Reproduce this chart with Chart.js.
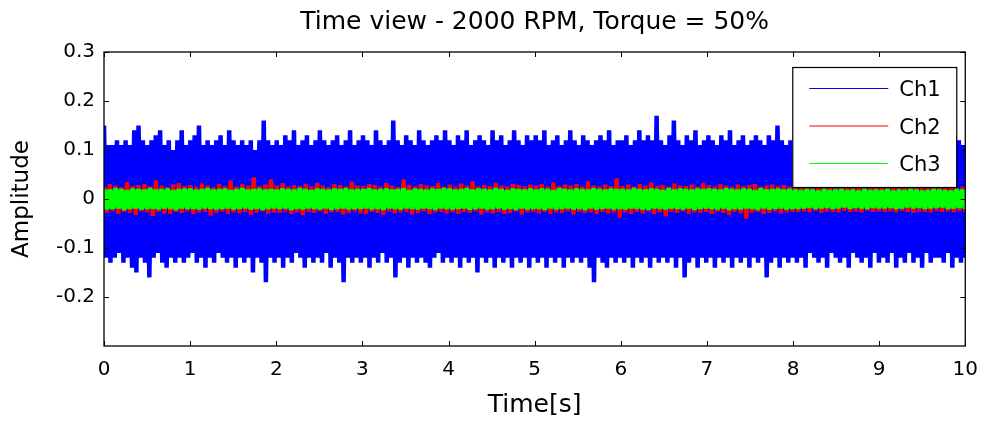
<!DOCTYPE html>
<html>
<head>
<meta charset="utf-8">
<script src="https://cdn.jsdelivr.net/npm/chart.js@4"></script>
<style>
  html, body { margin: 0; padding: 0; background: #fff; }
  #wrap { width: 990px; height: 425px; }
</style>
</head>
<body>
<div id="wrap"><canvas id="chart" width="990" height="425"></canvas></div>
<script>
const TITLE = "Time view - 2000 RPM, Torque = 50%"
const SERIES_NAMES = ["Ch1", "Ch2", "Ch3"]
const X_TICKS = [0, 1, 2, 3, 4, 5, 6, 7, 8, 9, 10]
const Y_TICKS = [0.3, 0.2, 0.1, 0, -0.1, -0.2]

// Ch1 - peaks, 40 per second
const ch1 = [
  0.15,-0.12,0.11,-0.13,0.11,-0.12,0.12,-0.11,0.11,-0.13,0.12,-0.12,0.11,-0.14,0.14,-0.15,0.15,-0.12,0.12,-0.13,0.11,-0.16,0.12,-0.12,0.13,-0.11,0.14,-0.13,0.11,-0.14,0.12,-0.12,0.10,-0.13,0.12,-0.12,0.14,-0.13,0.11,-0.12,
  0.12,-0.11,0.13,-0.13,0.15,-0.12,0.11,-0.14,0.12,-0.12,0.11,-0.13,0.12,-0.11,0.13,-0.12,0.11,-0.13,0.14,-0.12,0.12,-0.14,0.11,-0.12,0.12,-0.13,0.11,-0.12,0.12,-0.15,0.10,-0.12,0.12,-0.13,0.16,-0.17,0.12,-0.12,0.11,-0.13,
  0.12,-0.12,0.11,-0.14,0.13,-0.12,0.12,-0.13,0.14,-0.11,0.11,-0.12,0.12,-0.14,0.13,-0.12,0.11,-0.13,0.12,-0.12,0.14,-0.13,0.12,-0.11,0.11,-0.14,0.12,-0.12,0.13,-0.13,0.11,-0.17,0.12,-0.12,0.14,-0.13,0.11,-0.12,0.12,-0.13,
  0.13,-0.12,0.12,-0.14,0.11,-0.12,0.14,-0.13,0.12,-0.11,0.11,-0.13,0.12,-0.12,0.16,-0.16,0.12,-0.13,0.11,-0.12,0.13,-0.14,0.12,-0.12,0.11,-0.13,0.14,-0.12,0.12,-0.13,0.11,-0.14,0.12,-0.12,0.13,-0.11,0.12,-0.13,0.14,-0.12,
  0.12,-0.13,0.11,-0.12,0.13,-0.14,0.12,-0.12,0.14,-0.13,0.11,-0.12,0.12,-0.15,0.13,-0.12,0.12,-0.13,0.11,-0.12,0.14,-0.14,0.12,-0.12,0.13,-0.13,0.11,-0.12,0.12,-0.14,0.14,-0.12,0.12,-0.13,0.11,-0.12,0.13,-0.14,0.12,-0.12,
  0.13,-0.13,0.12,-0.12,0.14,-0.14,0.11,-0.12,0.12,-0.13,0.13,-0.12,0.11,-0.14,0.12,-0.12,0.14,-0.13,0.12,-0.12,0.11,-0.13,0.13,-0.12,0.12,-0.14,0.11,-0.17,0.12,-0.12,0.13,-0.13,0.12,-0.14,0.14,-0.12,0.11,-0.13,0.12,-0.12,
  0.12,-0.13,0.13,-0.12,0.11,-0.14,0.12,-0.12,0.14,-0.13,0.12,-0.12,0.13,-0.14,0.12,-0.12,0.17,-0.13,0.12,-0.12,0.11,-0.13,0.13,-0.12,0.16,-0.14,0.12,-0.12,0.11,-0.16,0.13,-0.13,0.12,-0.12,0.14,-0.14,0.11,-0.12,0.12,-0.13,
  0.13,-0.12,0.12,-0.14,0.11,-0.12,0.13,-0.13,0.12,-0.12,0.14,-0.14,0.11,-0.12,0.12,-0.13,0.13,-0.12,0.11,-0.14,0.12,-0.12,0.13,-0.13,0.12,-0.12,0.11,-0.16,0.13,-0.13,0.12,-0.12,0.15,-0.14,0.12,-0.12,0.11,-0.13,0.12,-0.12,
  0.11,-0.13,0.12,-0.12,0.10,-0.14,0.12,-0.11,0.11,-0.12,0.12,-0.13,0.10,-0.12,0.11,-0.14,0.12,-0.11,0.11,-0.12,0.10,-0.13,0.12,-0.12,0.11,-0.14,0.12,-0.11,0.10,-0.12,0.11,-0.13,0.12,-0.12,0.11,-0.14,0.10,-0.11,0.12,-0.13,
  0.11,-0.12,0.12,-0.13,0.10,-0.11,0.11,-0.14,0.12,-0.12,0.11,-0.13,0.10,-0.11,0.12,-0.13,0.11,-0.12,0.12,-0.14,0.10,-0.11,0.11,-0.13,0.12,-0.12,0.11,-0.12,0.10,-0.13,0.12,-0.11,0.11,-0.14,0.13,-0.12,0.12,-0.13,0.11,-0.12
]

// Ch2 - 30 per second
const ch2 = [
  0.025,-0.028,0.03,-0.024,0.027,-0.03,0.024,-0.026,0.035,-0.028,0.026,-0.032,0.028,-0.025,0.03,-0.027,0.025,-0.035,0.038,-0.026,0.027,-0.029,0.024,-0.03,0.029,-0.026,0.032,-0.028,0.026,-0.025,
  0.028,-0.03,0.025,-0.027,0.031,-0.026,0.027,-0.033,0.024,-0.028,0.03,-0.025,0.026,-0.03,0.038,-0.027,0.025,-0.029,0.03,-0.026,0.027,-0.032,0.044,-0.028,0.026,-0.025,0.029,-0.03,0.04,-0.027,
  0.027,-0.028,0.032,-0.025,0.025,-0.03,0.028,-0.027,0.026,-0.033,0.03,-0.026,0.025,-0.028,0.033,-0.025,0.027,-0.03,0.024,-0.027,0.03,-0.026,0.028,-0.031,0.025,-0.028,0.035,-0.025,0.027,-0.029,
  0.026,-0.03,0.03,-0.026,0.028,-0.028,0.025,-0.032,0.033,-0.025,0.027,-0.029,0.024,-0.027,0.04,-0.026,0.028,-0.031,0.025,-0.028,0.03,-0.025,0.027,-0.03,0.026,-0.027,0.032,-0.026,0.025,-0.029,
  0.029,-0.027,0.025,-0.03,0.031,-0.026,0.027,-0.028,0.036,-0.025,0.025,-0.031,0.028,-0.027,0.026,-0.029,0.033,-0.026,0.027,-0.03,0.025,-0.028,0.03,-0.025,0.028,-0.031,0.026,-0.027,0.029,-0.026,
  0.027,-0.029,0.03,-0.026,0.025,-0.03,0.034,-0.027,0.026,-0.028,0.029,-0.025,0.027,-0.031,0.03,-0.026,0.025,-0.028,0.036,-0.027,0.027,-0.03,0.025,-0.026,0.029,-0.029,0.026,-0.027,0.042,-0.038,
  0.026,-0.027,0.029,-0.03,0.025,-0.026,0.03,-0.029,0.027,-0.025,0.034,-0.03,0.026,-0.027,0.028,-0.035,0.025,-0.026,0.031,-0.028,0.027,-0.025,0.026,-0.03,0.029,-0.027,0.025,-0.028,0.032,-0.026,
  0.028,-0.03,0.025,-0.026,0.03,-0.028,0.027,-0.033,0.025,-0.026,0.029,-0.029,0.026,-0.04,0.028,-0.027,0.03,-0.026,0.025,-0.03,0.027,-0.028,0.029,-0.025,0.026,-0.029,0.028,-0.027,0.025,-0.026,
  0.024,-0.026,0.027,-0.025,0.023,-0.027,0.026,-0.024,0.025,-0.028,0.024,-0.025,0.026,-0.026,0.023,-0.027,0.025,-0.024,0.027,-0.026,0.024,-0.025,0.026,-0.027,0.023,-0.024,0.025,-0.026,0.027,-0.025,
  0.025,-0.026,0.024,-0.025,0.027,-0.027,0.023,-0.024,0.026,-0.026,0.025,-0.028,0.024,-0.025,0.026,-0.026,0.023,-0.027,0.025,-0.024,0.027,-0.026,0.024,-0.025,0.026,-0.027,0.023,-0.024,0.025,-0.026
]

// Ch3 - 30 per second
const ch3 = [
  0.02,-0.021,0.019,-0.02,0.022,-0.019,0.02,-0.022,0.018,-0.02,0.021,-0.019,0.02,-0.021,0.019,-0.02,0.022,-0.02,0.019,-0.021,0.02,-0.019,0.021,-0.02,0.018,-0.022,0.02,-0.019,0.021,-0.02,
  0.021,-0.02,0.019,-0.021,0.02,-0.019,0.022,-0.02,0.019,-0.021,0.02,-0.02,0.021,-0.019,0.018,-0.021,0.02,-0.02,0.022,-0.019,0.019,-0.021,0.02,-0.02,0.021,-0.022,0.019,-0.02,0.02,-0.019,
  0.019,-0.02,0.021,-0.019,0.02,-0.022,0.019,-0.02,0.022,-0.021,0.02,-0.019,0.018,-0.02,0.021,-0.021,0.02,-0.019,0.019,-0.022,0.021,-0.02,0.02,-0.019,0.022,-0.021,0.019,-0.02,0.02,-0.02,
  0.02,-0.019,0.022,-0.021,0.019,-0.02,0.02,-0.022,0.021,-0.019,0.019,-0.02,0.02,-0.021,0.022,-0.019,0.018,-0.02,0.021,-0.021,0.02,-0.019,0.019,-0.02,0.021,-0.022,0.02,-0.019,0.022,-0.02,
  0.021,-0.021,0.019,-0.02,0.02,-0.019,0.022,-0.022,0.019,-0.02,0.021,-0.019,0.02,-0.021,0.019,-0.02,0.022,-0.019,0.02,-0.021,0.018,-0.02,0.021,-0.022,0.02,-0.019,0.019,-0.021,0.021,-0.02,
  0.019,-0.02,0.021,-0.022,0.02,-0.019,0.018,-0.021,0.022,-0.02,0.02,-0.019,0.019,-0.021,0.021,-0.02,0.02,-0.022,0.019,-0.019,0.022,-0.021,0.02,-0.02,0.019,-0.019,0.021,-0.021,0.02,-0.02,
  0.02,-0.021,0.019,-0.019,0.022,-0.02,0.02,-0.021,0.019,-0.022,0.021,-0.019,0.02,-0.02,0.018,-0.021,0.022,-0.019,0.019,-0.02,0.021,-0.021,0.02,-0.019,0.019,-0.022,0.021,-0.02,0.02,-0.019,
  0.021,-0.02,0.02,-0.021,0.019,-0.019,0.022,-0.022,0.02,-0.02,0.019,-0.021,0.021,-0.019,0.02,-0.02,0.018,-0.022,0.022,-0.019,0.019,-0.021,0.02,-0.02,0.021,-0.019,0.019,-0.021,0.02,-0.02,
  0.019,-0.02,0.018,-0.019,0.02,-0.018,0.019,-0.02,0.017,-0.019,0.02,-0.018,0.018,-0.02,0.019,-0.019,0.02,-0.017,0.018,-0.02,0.019,-0.018,0.017,-0.019,0.02,-0.02,0.018,-0.018,0.019,-0.019,
  0.018,-0.019,0.02,-0.018,0.017,-0.02,0.019,-0.019,0.018,-0.017,0.02,-0.019,0.019,-0.018,0.017,-0.02,0.018,-0.019,0.02,-0.018,0.019,-0.017,0.018,-0.02,0.017,-0.019,0.02,-0.018,0.019,-0.02
]

const COLORS = ["#0000ff", "#ff0000", "#00ff00"]
const WIDTHS = [4.5, 4, 5]
const FONT = "'DejaVu Sans', sans-serif"
const T_END = 10

// sample times, evenly spread over the record
const toPoints = (arr) => arr.map((v, i) => ({ x: i * T_END / (arr.length - 1), y: v }))

const fmt = (v) => {
    const r = Math.round(v * 10) / 10
    return r === 0 ? "0" : String(r)
}

// MATLAB style box, inward ticks and legend
const matlabBox = {
    id: "matlabBox",
    afterDatasetsDraw(chart) {
        const { ctx, chartArea: a, scales } = chart
        ctx.save()
        ctx.strokeStyle = "#000"
        ctx.lineWidth = 1.3
        ctx.strokeRect(a.left, a.top, a.right - a.left, a.bottom - a.top)
        const tl = 5
        ctx.lineWidth = 1
        ctx.beginPath()
        X_TICKS.forEach(t => {
            const x = Math.round(scales.x.getPixelForValue(t)) + 0.5
            ctx.moveTo(x, a.bottom); ctx.lineTo(x, a.bottom - tl)
            ctx.moveTo(x, a.top); ctx.lineTo(x, a.top + tl)
        })
        Y_TICKS.forEach(t => {
            const y = Math.round(scales.y.getPixelForValue(t)) + 0.5
            ctx.moveTo(a.left, y); ctx.lineTo(a.left + tl, y)
            ctx.moveTo(a.right, y); ctx.lineTo(a.right - tl, y)
        })
        ctx.stroke()

        // legend
        const bw = 164, bh = 120
        const bx = a.right - 9 - bw, by = a.top + 15
        ctx.fillStyle = "#fff"
        ctx.fillRect(bx, by, bw, bh)
        ctx.lineWidth = 1.2
        ctx.strokeStyle = "#000"
        ctx.strokeRect(bx + 0.5, by + 0.5, bw, bh)
        ctx.font = "21px " + FONT
        ctx.textBaseline = "middle"
        ctx.textAlign = "left"
        SERIES_NAMES.forEach((name, i) => {
            const y = by + 21 + i * 37.5
            ctx.strokeStyle = COLORS[i]
            ctx.lineWidth = 1.2
            ctx.beginPath()
            ctx.moveTo(bx + 17, y + 0.5)
            ctx.lineTo(bx + 96, y + 0.5)
            ctx.stroke()
            ctx.fillStyle = "#000"
            ctx.fillText(name, bx + 107, y + 3)
        })
        ctx.restore()
    }
}

const channels = [ch1, ch2, ch3]
// reversed so that Ch3 ends up on top
const datasets = channels.map((arr, i) => ({
    label: SERIES_NAMES[i],
    data: toPoints(arr),
    borderColor: COLORS[i],
    backgroundColor: COLORS[i],
    borderWidth: WIDTHS[i],
    borderJoinStyle: "bevel",
    pointRadius: 0,
    tension: 0,
    fill: false
})).reverse()

new Chart(document.getElementById("chart"), {
    type: "line",
    data: { datasets },
    options: {
        responsive: false,
        animation: false,
        events: [],
        layout: { padding: { left: 0, right: 20, top: 0, bottom: 0 } },
        plugins: {
            legend: { display: false },
            tooltip: { enabled: false },
            title: {
                display: true,
                text: TITLE,
                color: "#000",
                fullSize: false,
                font: { family: FONT, size: 25, weight: "normal" },
                padding: { top: 7, bottom: 15 }
            }
        },
        scales: {
            x: {
                type: "linear",
                min: 0,
                max: T_END,
                afterFit(s) { s.height = 79 },
                afterBuildTicks(s) { s.ticks = X_TICKS.map(v => ({ value: v })) },
                grid: { display: false, drawTicks: false },
                border: { display: false },
                ticks: { color: "#000", padding: 12, maxRotation: 0, font: { family: FONT, size: 20 } },
                title: {
                    display: true,
                    text: "Time[s]",
                    color: "#000",
                    font: { family: FONT, size: 25 },
                    padding: { top: 2, bottom: 5 }
                }
            },
            y: {
                min: -0.3,
                max: 0.3,
                afterFit(s) { s.width = 104 },
                afterBuildTicks(s) { s.ticks = Y_TICKS.map(v => ({ value: v })) },
                grid: { display: false, drawTicks: false },
                border: { display: false },
                ticks: { color: "#000", padding: 9, font: { family: FONT, size: 20 }, callback: (v) => fmt(v) },
                title: {
                    display: true,
                    text: "Amplitude",
                    color: "#000",
                    font: { family: FONT, size: 23 },
                    padding: { top: 8, bottom: 0 }
                }
            }
        }
    },
    plugins: [matlabBox]
})
</script>
</body>
</html>
